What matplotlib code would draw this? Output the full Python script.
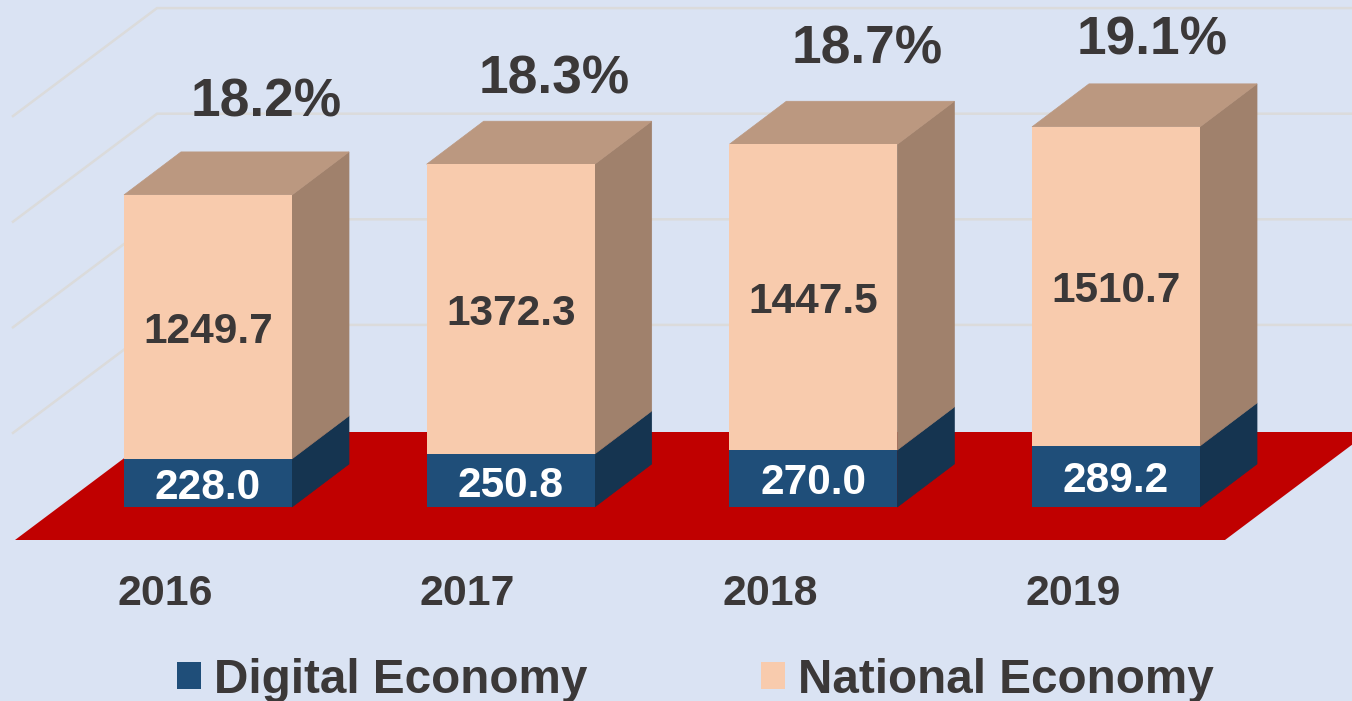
import matplotlib
matplotlib.use("Agg")
import matplotlib.pyplot as plt
from matplotlib.patches import Polygon, Patch

years = ["2016", "2017", "2018", "2019"]
digital = [228.0, 250.8, 270.0, 289.2]
national = [1249.7, 1372.3, 1447.5, 1510.7]
shares = ["18.2%", "18.3%", "18.7%", "19.1%"]
grid_values = [0, 500, 1000, 1500, 2000]

# pixel layout of the oblique drawing
W, H = 1352, 701
PX_PER_CAT = 302.67
PX_PER_UNIT = 0.2112
CX0, BASE_PY = 208.0, 507.0

def ux(px):
    return px / PX_PER_CAT

def uy(px):
    return px / PX_PER_UNIT

BG = "#DAE3F3"
TEXT = "#3B3838"
FLOOR = "#C00000"
GRID = "#DBDBDB"
PEACH, PEACH_TOP, PEACH_SIDE = "#F8CBAD", "#BB9880", "#A0816C"
BLUE, BLUE_SIDE = "#1F4E79", "#153450"

plt.rcParams["font.family"] = ["Liberation Sans", "DejaVu Sans"]
plt.rcParams["font.weight"] = "bold"

fig = plt.figure(figsize=(W / 100, H / 100), dpi=100, facecolor=BG)
ax = fig.add_axes([0, 0, 1, 1], facecolor=BG)
ax.set_xlim(ux(0 - CX0), ux(W - CX0))
ax.set_ylim(uy(BASE_PY - H), uy(BASE_PY))
ax.axis("off")

xpos = list(range(len(years)))
bar_w = ux(168)
ddx, ddy = ux(57), uy(43)       # bar depth
fdx, fdy = ux(144), uy(108)     # floor depth
floor_y = -uy(33)
floor_l, floor_r = ux(15 - CX0), ux(1225 - CX0)

# floor
ax.add_patch(Polygon([(floor_l, floor_y), (floor_r, floor_y),
                      (floor_r + fdx, floor_y + fdy), (floor_l + fdx, floor_y + fdy)],
                     closed=True, fc=FLOOR, ec="none", zorder=1))

# back wall gridlines
wall_y = floor_y + fdy + uy(1.5)
gx_back = ux(157 - CX0)
gx_front = ux(13 - CX0)
for v in grid_values[1:]:
    yb = wall_y + v
    ax.plot([gx_front, gx_back, ux(W - CX0) + 1], [yb - fdy, yb, yb],
            color=GRID, lw=1.8, zorder=0.5, solid_joinstyle="miter")

# sides and tops
for x, d, n in zip(xpos, digital, national):
    r = x + bar_w / 2
    l = x - bar_w / 2
    ax.add_patch(Polygon([(r, 0), (r + ddx, ddy), (r + ddx, d + ddy), (r, d)],
                         fc=BLUE_SIDE, ec=BLUE_SIDE, lw=0.5, zorder=3))
    ax.add_patch(Polygon([(r, d), (r + ddx, d + ddy), (r + ddx, d + n + ddy), (r, d + n)],
                         fc=PEACH_SIDE, ec=PEACH_SIDE, lw=0.5, zorder=3))
    ax.add_patch(Polygon([(l, d + n), (r, d + n), (r + ddx, d + n + ddy), (l + ddx, d + n + ddy)],
                         fc=PEACH_TOP, ec=PEACH_TOP, lw=0.5, zorder=3))

# front faces
ax.bar(xpos, digital, width=bar_w, color=BLUE, zorder=4, label="Digital Economy")
ax.bar(xpos, national, width=bar_w, bottom=digital, color=PEACH, zorder=4, label="National Economy")

# value labels
for x, d, n in zip(xpos, digital, national):
    ax.text(x, d / 2 - uy(5), f"{d:.1f}", color="white", fontsize=30.5, ha="center", va="center", zorder=5)
    ax.text(x, d + n / 2 - uy(5), f"{n:.1f}", color=TEXT, fontsize=30.5, ha="center", va="center", zorder=5)

# share labels above each bar
share_off = [(58, 92.5), (44, 85), (54, 95), (36, 86)]
for x, d, n, s, (ox, oy) in zip(xpos, digital, national, shares, share_off):
    ax.annotate(s, (x, d + n), xytext=(ox * 0.72, oy * 0.72), textcoords="offset points",
                color=TEXT, fontsize=38.3, ha="center", va="center", zorder=6)

# year labels
for x, y in zip(xpos, years):
    ax.text(x - ux(43), uy(BASE_PY - 594), y, color=TEXT, fontsize=30.8, ha="center", va="center", zorder=5)

# legend
handles = [Patch(fc=BLUE, ec="none", label="Digital Economy"),
           Patch(fc=PEACH, ec="none", label="National Economy")]
leg = ax.legend(handles=handles, ncols=2, loc="lower left",
                bbox_to_anchor=(177 / W, 1 - 702.5 / H), bbox_transform=fig.transFigure,
                frameon=False, fontsize=34.3, labelcolor=TEXT,
                handlelength=0.5, handleheight=0.5, handletextpad=0.27,
                columnspacing=3.66, borderpad=0, borderaxespad=0, labelspacing=0)

fig.savefig("out.png", dpi=100, facecolor=BG)
